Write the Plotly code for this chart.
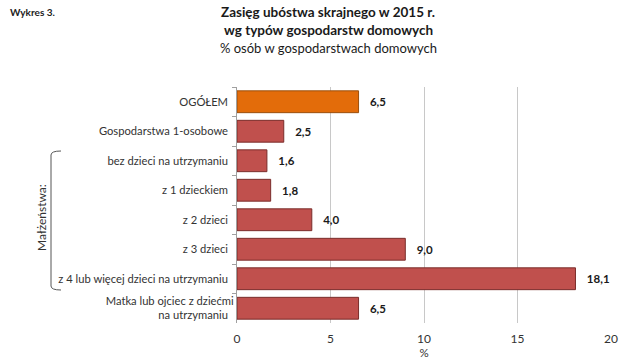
import plotly.graph_objects as go

categories = ["OGÓŁEM", "Gospodarstwa 1-osobowe", "bez dzieci na utrzymaniu", "z 1 dzieckiem",
              "z 2 dzieci", "z 3 dzieci", "z 4 lub więcej dzieci na utrzymaniu",
              "Matka lub ojciec z dziećmi<br>na utrzymaniu"]
values = [6.5, 2.5, 1.6, 1.8, 4.0, 9.0, 18.1, 6.5]
value_labels = ["6,5", "2,5", "1,6", "1,8", "4,0", "9,0", "18,1", "6,5"]
bar_colors = ["#E36C0A"] + ["#C0504D"] * 7
line_colors = ["#9A4F0E"] + ["#7A2D2B"] * 7

FONT = "Lato, 'Open Sans', sans-serif"
L, R, T, B = 237, 13, 87, 36
W, H = 624, 359

fig = go.Figure()
fig.add_trace(go.Bar(
    y=categories, x=values, orientation="h",
    marker=dict(color=bar_colors, line=dict(color=line_colors, width=1)),
    text=["   " + v for v in value_labels], textposition="outside", cliponaxis=False,
    textfont=dict(family=FONT, size=11.5, color="#1a1a1a", weight="bold"),
    width=0.74,
))

fig.update_layout(
    width=W, height=H,
    margin=dict(l=L, r=R, t=T, b=B, autoexpand=False),
    paper_bgcolor="white", plot_bgcolor="white",
    showlegend=False,
    font=dict(family=FONT, size=11.2, color="#404040"),
    xaxis=dict(range=[0, 20], dtick=5, showgrid=True, gridcolor="#C8C8C8", gridwidth=1,
               zeroline=False, showline=False, ticks="outside", ticklen=5, tickcolor="white",
               automargin=False,
               tickfont=dict(size=12, color="#333"),
               title=dict(text="%", font=dict(size=11.5, color="#333"), standoff=1)),
    yaxis=dict(autorange="reversed", showline=True, linecolor="#A0A0A0", ticks="outside",
               tickson="boundaries", ticklen=4, tickcolor="#A0A0A0", showgrid=False,
               automargin=False,
               tickfont=dict(size=11.2, color="#333"), ticksuffix="  "),
)


def px_to_paper_x(px):
    return (px - L) / (W - L - R)


def px_to_paper_y(py):
    return 1 - (py - T) / (H - T - B)


fig.add_annotation(text="<b>Wykres 3.</b>", x=px_to_paper_x(8), y=px_to_paper_y(12),
                   xref="paper", yref="paper", xanchor="left", yanchor="middle",
                   showarrow=False, font=dict(size=10, color="#222"))
annots = [
    dict(text="<b>Zasięg ubóstwa skrajnego w 2015 r.</b>", y=12, size=13.5),
    dict(text="<b>wg typów gospodarstw domowych</b>", y=30, size=13.5),
    dict(text="% osób w gospodarstwach domowych", y=48, size=13),
]
for a in annots:
    fig.add_annotation(text=a["text"], x=px_to_paper_x(328), y=px_to_paper_y(a["y"]),
                       xref="paper", yref="paper", xanchor="center", yanchor="middle",
                       showarrow=False, font=dict(size=a["size"], color="#1a1a1a"))

# bracket for "Małżeństwa:"
bx = px_to_paper_x(51)
bx2 = px_to_paper_x(61)
yt = px_to_paper_y(151)
yb = px_to_paper_y(290)
fig.add_shape(type="path", xref="paper", yref="paper",
              path=f"M {bx2} {yt} Q {bx} {yt} {bx} {px_to_paper_y(155)} L {bx} {px_to_paper_y(286)} Q {bx} {yb} {bx2} {yb}",
              line=dict(color="#555", width=1))
fig.add_annotation(text="Małżeństwa:", x=px_to_paper_x(41), y=px_to_paper_y(218),
                   xref="paper", yref="paper", textangle=-90, showarrow=False,
                   xanchor="center", yanchor="middle",
                   font=dict(size=12, color="#333"))

fig.write_html("out.html", config={"displayModeBar": False},
               post_script="document.body.style.margin='0';")
